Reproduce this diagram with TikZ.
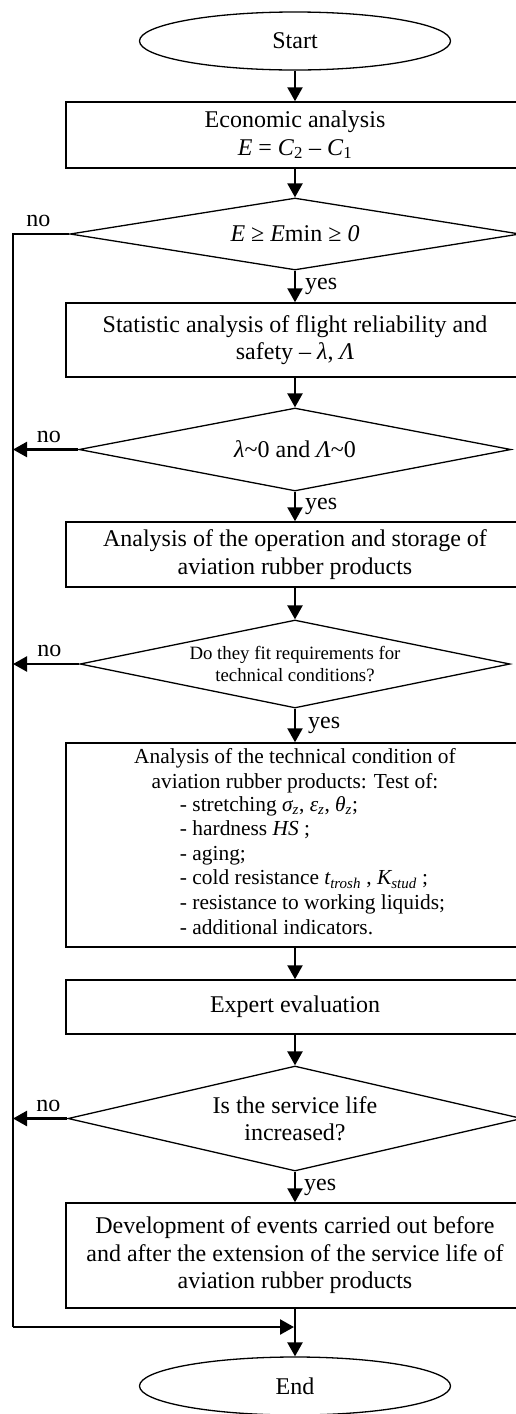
\documentclass[tikz,border=0pt]{standalone}
\usepackage{fontspec}
\setmainfont{Liberation Serif}
\usetikzlibrary{arrows.meta, shapes.geometric}

\begin{document}
\begin{tikzpicture}[
    x=1pt, y=-1pt,               % Pixelkoordinaten, y nach unten
    term/.style={draw, ellipse, line width=1.3pt, minimum width=311pt, minimum height=58pt, inner sep=0pt, font=\fontsize{24}{27.5}\selectfont},
    proc/.style={draw, line width=1.5pt, minimum width=458pt, inner sep=0pt, align=center, font=\fontsize{24}{27.5}\selectfont},
    cond/.style={draw, diamond, line width=1.3pt, inner sep=0pt, align=center, font=\fontsize{24}{27.5}\selectfont},
    arrow/.style={-{Triangle[length=14pt,width=15pt]}, line width=2.4pt},
    rail/.style={line width=2.4pt},
    lbl/.style={inner sep=0pt, font=\fontsize{24}{27.5}\selectfont}
  ]

  \clip (0,0) rectangle (516,1414);

  % Start / Ende
  \node[term] (start) at (295,41)   {Start};
  \node[term] (stop)  at (295,1386) {End};

  % Prozessblöcke
  \node[proc, minimum height=66pt]  (econ)   at (295,135)  {Economic analysis\\\textit{E} = \textit{C}\textsubscript{2} – \textit{C}\textsubscript{1}};
  \node[proc, minimum height=74pt]  (stat)   at (295,340)  {Statistic analysis of flight reliability and\\safety – \textit{λ}, \textit{Λ}};
  \node[proc, minimum height=65pt]  (oper)   at (295,554.5) {Analysis of the operation and storage of\\aviation rubber products};
  \node[proc, minimum height=204pt, font=\fontsize{21.4}{24.6}\selectfont] (tech) at (295,845)
    {Analysis of the technical condition of\\aviation rubber products: Test of:\\
     \hspace*{35pt}\begin{tabular}{@{}l@{}}
       - stretching \textit{σ\textsubscript{z}}, \textit{ε\textsubscript{z}}, \textit{θ\textsubscript{z}};\\
       - hardness \textit{HS} ;\\
       - aging;\\
       - cold resistance \textit{t\textsubscript{trosh}} , \textit{K\textsubscript{stud}} ;\\
       - resistance to working liquids;\\
       - additional indicators.
     \end{tabular}};
  \node[proc, minimum height=54pt]  (expert) at (295,1007) {Expert evaluation};
  \node[proc, minimum height=105pt] (events) at (295,1255.5) {Development of events carried out before\\and after the extension of the service life of\\aviation rubber products};

  % Entscheidungen
  \node[cond, minimum width=450pt, minimum height=72pt, aspect=6.25] (chkE) at (295,234)
    {\textit{E} ≥ \textit{E}min ≥ \textit{0}};
  \node[cond, minimum width=432pt, minimum height=83pt, aspect=5.2] (chkL) at (295,449.5)
    {\textit{λ}\textasciitilde 0 and \textit{Λ}\textasciitilde 0};
  \node[cond, minimum width=430pt, minimum height=88pt, aspect=4.9, font=\fontsize{18.8}{22}\selectfont] (chkT) at (295,664)
    {Do they fit requirements for\\technical conditions?};
  \node[cond, minimum width=454pt, minimum height=105pt, aspect=4.3] (chkS) at (295,1118.5)
    {Is the service life\\increased?};

  % Sammelleitung links
  \coordinate (railtop) at (13,234);
  \coordinate (railbot) at (13,1327);
  \coordinate (join)    at (295,1327);
  \coordinate (noL) at (13,449.5);
  \coordinate (noT) at (13,664);
  \coordinate (noS) at (13,1118.5);

  \draw[arrow] (start) -- (econ);
  \draw[arrow] (econ) -- (chkE);
  \draw[arrow] (chkE) -- (stat) node[lbl, right, pos=0.5, xshift=9pt] {yes};
  \draw[arrow] (stat) -- (chkL);
  \draw[arrow] (chkL) -- (oper) node[lbl, right, pos=0.5, xshift=9pt] {yes};
  \draw[arrow] (oper) -- (chkT);
  \draw[arrow] (chkT) -- (tech) node[lbl, right, pos=0.5, xshift=12pt] {yes};
  \draw[arrow] (tech) -- (expert);
  \draw[arrow] (expert) -- (chkS);
  \draw[arrow] (chkS) -- (events) node[lbl, right, pos=0.5, xshift=8pt] {yes};
  \draw[arrow] (events) -- (stop);

  \draw[rail] (chkE.west) -- node[lbl, above=6pt, pos=0.55] {no} (railtop) -- (railbot);
  \draw[arrow] (railbot) -- ([xshift=-1pt]join);
  \draw[arrow] (chkL.west) -- node[lbl, above=6pt, pos=0.45] {no} (noL);
  \draw[arrow] (chkT.west) -- node[lbl, above=6pt, pos=0.45] {no} (noT);
  \draw[arrow] (chkS.west) -- node[lbl, above=6pt, pos=0.35] {no} (noS);

\end{tikzpicture}
\end{document}
